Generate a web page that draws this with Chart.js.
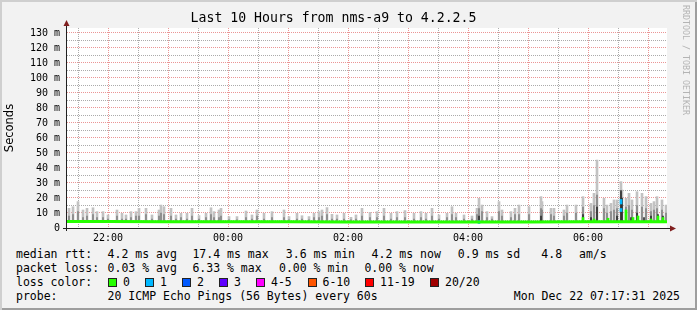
<!DOCTYPE html>
<html>
<head>
<meta charset="utf-8">
<script src="https://cdn.jsdelivr.net/npm/chart.js@4.4.0/dist/chart.umd.min.js"></script>
<style>
  body { margin: 0; background: #f2f2f2; }
  #wrap {
    position: relative; width: 697px; height: 310px; overflow: hidden;
    background: #f2f2f2;
    box-shadow: inset 2px 2px 0 #cfcfcf, inset -2px -2px 0 #9e9e9e;
    font-family: 'DejaVu Sans Mono', monospace; font-size: 11.5px; color: #000;
  }
  #chart { position: absolute; left: 0; top: 0; }
  .t { position: absolute; white-space: pre; line-height: 14px; }
  .box { position: absolute; width: 7px; height: 7px; border: 1px solid #222; }
  #mark {
    position: absolute; left: 681px; top: 5px; writing-mode: vertical-rl;
    font-size: 8.3px; line-height: 10px; color: #b4b4b4; white-space: pre;
  }
</style>
</head>
<body>
<div id="wrap">
  <canvas id="chart" width="697" height="245"></canvas>
  <div id="mark">RRDTOOL / TOBI OETIKER</div>
  <div id="legend"></div>
</div>
<script>
// minutes after 21:00 (graph spans 21:19 .. 07:19)
const timeMin = 19;
const timeMax = 619;

// smoke spikes: position, top ping, inner band
const smokeT   = [21, 25, 30, 35, 39, 45, 49, 55, 60, 69, 74, 78, 83, 88, 91, 98, 104, 111, 113, 116, 123, 128, 133, 139, 144, 151, 158, 163, 166,
                  171, 173, 181, 189, 198, 204, 209, 216, 224, 236, 241, 249, 254, 261, 266, 271, 274, 279, 284, 289, 296, 303, 308, 314,
                  322, 329, 336, 343, 349, 357, 366, 373, 378, 384, 391, 399, 404, 408, 416, 424, 429, 431, 434, 439, 444, 451, 454, 463, 467,
                  471, 481, 493, 494, 503, 506, 516, 519, 528, 535, 543, 546, 549, 556, 559, 563, 566, 569, 573, 574, 578, 581, 584, 589, 594, 598, 603, 606, 609, 614, 618];
const smokeHi  = [13.1, 14.2, 17.6, 12.0, 13.1, 13.5, 10.9, 10.9, 8.7, 12.0, 9.8, 8.7, 10.9, 10.9, 13.1, 13.1, 8.7, 12.0, 15.3, 14.2, 13.1, 8.7, 9.8, 9.8, 13.1, 8.3, 9.8, 13.5, 10.9,
                  12.0, 13.1, 7.6, 7.6, 11.3, 8.7, 12.0, 9.8, 10.9, 12.0, 7.6, 9.8, 8.2, 7.6, 9.8, 10.9, 12.0, 13.6, 9.1, 8.7, 9.8, 7.1, 8.7, 13.1,
                  10.4, 10.9, 13.1, 9.8, 10.9, 11.6, 9.8, 10.9, 9.8, 13.1, 8.7, 9.8, 14.2, 9.8, 8.7, 8.0, 13.1, 19.8, 15.3, 10.9, 7.6, 17.6, 12.0, 10.9, 13.1,
                  15.3, 14.2, 20.9, 17.6, 13.1, 13.1, 12.0, 15.3, 15.3, 20.9, 16.4, 23.1, 45.3, 19.8, 15.3, 16.4, 18.7, 18.7, 30.9, 25.3, 19.8, 23.1, 18.7, 24.2, 23.1, 20.9, 16.4, 17.6, 20.9, 18.7, 15.3];
const smokeMid = [8, 9, 11, 7, 8, 9, 7, 7, 6, 8, 6, 6, 7, 8, 8, 9, 6, 8, 10, 9, 8, 6, 7, 6, 8, 6, 7, 9, 7,
                  7, 8, 5.5, 5.5, 7, 6, 8, 6, 7, 7, 5.5, 6, 6, 5.5, 7, 7, 8, 9, 6, 6, 6, 5.5, 6, 8,
                  7, 7, 8, 6, 7, 7, 6, 7, 6, 8, 6, 7, 9, 7, 6, 6, 9, 13, 11, 7, 6, 11, 8, 7, 9,
                  9, 9, 13, 12, 9, 8, 8, 10, 10, 14, 11, 15, 22, 13, 10, 11, 12, 13, 24, 18, 14, 15, 12, 15, 14, 13, 11, 12, 13, 12, 10];

// darkest smoke near the median
const darkT  = [431, 493, 535, 543, 549, 560, 569, 573, 574, 578, 583, 589, 596, 603, 610, 615];
const darkHi = [8, 8, 9, 7, 14, 6, 8, 25, 20, 9, 7, 10, 7, 8, 9, 8];

// median rtt (ms)
const medT = [19, 60, 120, 180, 240, 300, 360, 420, 480, 540, 600, 619];
const medV = [4.3, 4.3, 4.2, 4.1, 4.1, 4.0, 4.0, 4.0, 4.0, 4.1, 4.2, 4.2];
const medJumpT  = [535, 546, 560, 578, 585, 590, 603, 610, 615];
const medJumpHi = [7, 6, 6.5, 12, 7, 8, 6, 8, 7];

// median segments coloured by packet loss (1 of 20)
const lossT  = [431, 573, 573];
const lossLo = [3, 11, 16];
const lossHi = [5, 13, 19];

const yTicks = [0, 5, 10, 15, 20, 25, 30, 35, 40, 45, 50, 55, 60, 65, 70, 75, 80, 85, 90, 95, 100, 105, 110, 115, 120, 125, 130];
const xTicks = [30, 60, 90, 120, 150, 180, 210, 240, 270, 300, 330, 360, 390, 420, 450, 480, 510, 540, 570, 600];

const lossColors = [
  ['0', '#26ff00'], ['1', '#00b8ff'], ['2', '#0059ff'], ['3', '#5e00ff'],
  ['4-5', '#ff00ff'], ['6-10', '#ff5500'], ['11-19', '#ff0000'], ['20/20', '#a00000']
];

const GRID = 'rgba(143,143,143,0.75)';
const MGRID = 'rgba(222,79,79,0.6)';
const mono = 'DejaVu Sans Mono';

const medianAt = t => {
  for (let i = 1; i < medT.length; i++) if (t <= medT[i]) return medV[i - 1];
  return medV[medV.length - 1];
};

const bars = (ts, tops, color, ord, width, lows) => ({
  type: 'bar',
  data: ts.map((t, i) => ({ x: t, y: [lows ? lows[i] : medianAt(t), tops[i]] })),
  backgroundColor: color,
  borderWidth: 0,
  barThickness: width,
  grouped: false,
  order: ord
});

const rrdFrame = {
  id: 'rrdFrame',
  beforeDraw(chart) {
    const { ctx, chartArea: a } = chart;
    ctx.save();
    ctx.fillStyle = '#ffffff';
    ctx.fillRect(a.left, a.top, a.right - a.left, a.bottom - a.top);
    ctx.restore();
  },
  afterDraw(chart) {
    const { ctx, chartArea: a } = chart;
    ctx.save();
    ctx.strokeStyle = '#202020';
    ctx.lineWidth = 1;
    ctx.beginPath();
    ctx.moveTo(a.left - 4, a.bottom + 0.5);
    ctx.lineTo(a.right + 4, a.bottom + 0.5);
    ctx.moveTo(a.left - 0.5, a.bottom + 3);
    ctx.lineTo(a.left - 0.5, a.top - 3);
    ctx.stroke();
    ctx.fillStyle = '#801f1f';
    ctx.beginPath();
    ctx.moveTo(a.right + 3, a.bottom - 2.5);
    ctx.lineTo(a.right + 9, a.bottom + 0.5);
    ctx.lineTo(a.right + 3, a.bottom + 3.5);
    ctx.fill();
    ctx.beginPath();
    ctx.moveTo(a.left - 3.5, a.top - 2);
    ctx.lineTo(a.left - 0.5, a.top - 8);
    ctx.lineTo(a.left + 2.5, a.top - 2);
    ctx.fill();
    ctx.restore();
  }
};

new Chart(document.getElementById('chart'), {
  data: {
    datasets: [
      {
        type: 'line',
        data: medT.map((t, i) => ({ x: t, y: medV[i] })),
        borderColor: '#26ff00',
        borderWidth: 3,
        pointRadius: 0,
        order: 0
      },
      bars(lossT, lossHi, '#00b8ff', 1, 2, lossLo),
      bars(medJumpT, medJumpHi, '#26ff00', 2, 2),
      bars(darkT, darkHi, '#303030', 3, 1),
      bars(smokeT, smokeMid, '#858585', 4, 1),
      bars(smokeT, smokeHi, '#c2c2c2', 5, 2)
    ]
  },
  options: {
    responsive: false,
    animation: false,
    devicePixelRatio: 1,
    layout: { padding: { left: 0, right: 30, top: 0, bottom: 0 } },
    plugins: {
      legend: { display: false },
      tooltip: { enabled: false },
      title: {
        display: true,
        text: 'Last 10 Hours from nms-a9 to 4.2.2.5',
        color: '#000',
        font: { family: mono, size: 13.2, weight: 'normal', lineHeight: 1.2 },
        padding: { top: 11, bottom: 1.16 }
      }
    },
    scales: {
      x: {
        type: 'linear',
        min: timeMin,
        max: timeMax,
        offset: false,
        afterBuildTicks: s => { s.ticks = xTicks.map(v => ({ value: v })); },
        afterFit: s => { s.height = 17; },
        border: { display: false, dash: [1, 1] },
        grid: {
          offset: false,
          color: c => (c.tick && c.tick.value % 60 === 0 ? MGRID : GRID),
          lineWidth: 1,
          drawTicks: false
        },
        ticks: {
          autoSkip: false,
          maxRotation: 0,
          padding: 4,
          color: '#000',
          font: { family: mono, size: 10 },
          callback: v => {
            if (v % 120 !== 60) return '';
            const h = (21 + v / 60) % 24;
            return String(h).padStart(2, '0') + ':00';
          }
        }
      },
      y: {
        min: 0,
        max: 133.333,
        afterBuildTicks: s => { s.ticks = yTicks.map(v => ({ value: v })); },
        afterFit: s => { s.width = 67; },
        border: { display: false, dash: [1, 1] },
        grid: {
          color: c => (c.tick && c.tick.value % 10 === 0 ? MGRID : GRID),
          lineWidth: 1,
          drawTicks: false
        },
        title: {
          display: true,
          text: 'Seconds',
          color: '#000',
          font: { family: 'DejaVu Sans', size: 11.5, lineHeight: 1.2 },
          padding: { top: 3, bottom: 0 }
        },
        ticks: {
          autoSkip: false,
          padding: 7,
          color: '#000',
          font: { family: mono, size: 10 },
          callback: v => (v % 10 !== 0 ? '' : (v === 0 ? '0' : v + ' m'))
        }
      }
    }
  },
  plugins: [rrdFrame]
});

// text legend under the graph
const legend = document.getElementById('legend');
const put = (txt, left, top, right) => {
  const d = document.createElement('div');
  d.className = 't';
  d.textContent = txt;
  d.style.top = top + 'px';
  if (right !== undefined) d.style.right = right + 'px'; else d.style.left = left + 'px';
  legend.appendChild(d);
};
put('median rtt:', 16, 247);
[['4.2 ms avg', 107.6], ['17.4 ms max', 192.4], ['3.6 ms min', 285.8], ['4.2 ms now', 371.6],
 ['0.9 ms sd', 457.8], ['4.8', 541.3], ['am/s', 579]].forEach(([s, x]) => put(s, x, 247));
put('packet loss:', 16, 261);
[['0.03 % avg', 107.6], ['6.33 % max', 192.4], ['0.00 % min', 279], ['0.00 % now', 364.4]]
  .forEach(([s, x]) => put(s, x, 261));
put('loss color:', 16, 275);
const boxX = [108, 145, 182, 219, 256, 307.5, 365, 430];
lossColors.forEach(([label, col], i) => {
  const b = document.createElement('div');
  b.className = 'box';
  b.style.left = boxX[i] + 'px';
  b.style.top = '278px';
  b.style.background = col;
  legend.appendChild(b);
  put(label, boxX[i] + 15, 275);
});
put('probe:', 16, 289);
put('20 ICMP Echo Pings (56 Bytes) every 60s', 107.6, 289);
put('Mon Dec 22 07:17:31 2025', 0, 289, 17);
</script>
</body>
</html>
